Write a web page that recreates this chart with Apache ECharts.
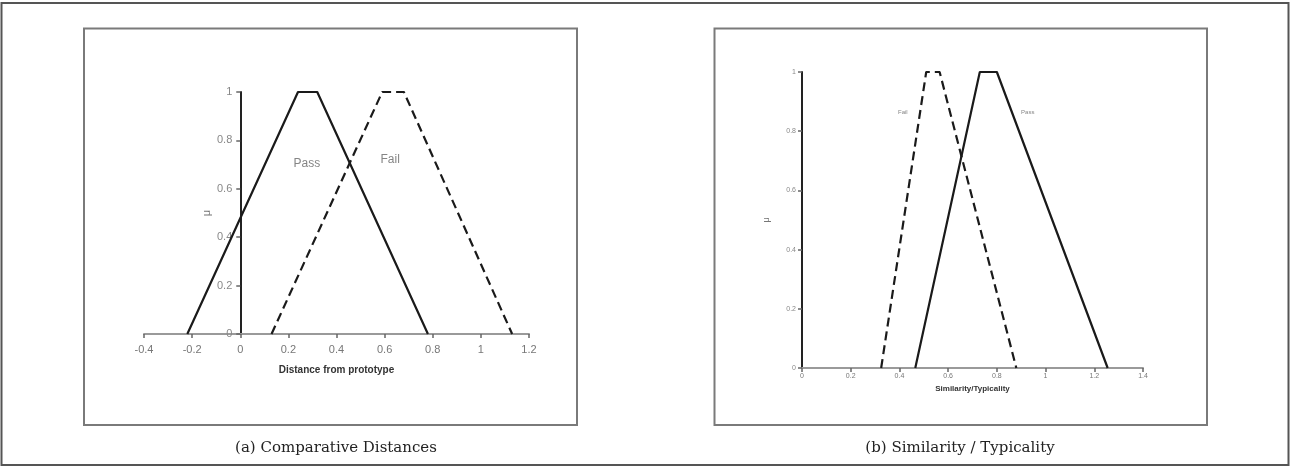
<!DOCTYPE html>
<html><head><meta charset="utf-8">
<script src="https://cdn.jsdelivr.net/npm/echarts@6/dist/echarts.min.js"></script>
<style>html,body{margin:0;padding:0;background:#fff}#c{width:1291px;height:468px}</style>
</head><body><div id="c"></div>
<script>
// ---- Data (a) Comparative Distances ----
const aXTicks = [-0.4, -0.2, 0, 0.2, 0.4, 0.6, 0.8, 1, 1.2];
const aPass = [[-0.22, 0], [0.24, 1], [0.32, 1], [0.78, 0]];
const aFail = [[0.13, 0], [0.59, 1], [0.68, 1], [1.13, 0]];
const aLabels = [[0.277, 0.705, 'Pass'], [0.623, 0.719, 'Fail']];
// ---- Data (b) Similarity / Typicality ----
const bXTicks = [0, 0.2, 0.4, 0.6, 0.8, 1, 1.2, 1.4];
const bFail = [[0.325, 0], [0.51, 1], [0.565, 1], [0.88, 0]];
const bPass = [[0.465, 0], [0.73, 1], [0.8, 1], [1.255, 0]];
const bLabels = [[0.414, 0.864, 'Fail'], [0.927, 0.864, 'Pass']];
const yTicks = [0, 0.2, 0.4, 0.6, 0.8, 1];
const captions = ['(a) Comparative Distances', '(b) Similarity / Typicality'];

const W = 1291;
const gridA = {left: 144, right: 762, top: 92, bottom: 134};
const gridB = {left: 802, right: 148, top: 72, bottom: 100};

const chart = echarts.init(document.getElementById('c'), null, {renderer: 'canvas'});
const lineCol = '#1a1a1a';
const lblFont = 'Liberation Sans, Arial, sans-serif';

function xAxis(idx, ticks, name, fs, nameFs, nameGap, margin) {
  return {
    type: 'value', gridIndex: idx, min: ticks[0], max: ticks[ticks.length - 1], interval: 0.2,
    name: name, nameLocation: 'middle', nameGap: nameGap,
    nameTextStyle: {fontFamily: lblFont, fontWeight: 'bold', fontSize: nameFs, color: '#333'},
    axisLine: {onZero: false, lineStyle: {color: '#9a9a9a', width: 2}},
    axisTick: {show: true, length: 4, lineStyle: {color: '#666', width: 1.5}},
    axisLabel: {fontFamily: lblFont, fontSize: fs, color: '#777', margin: margin,
      formatter: v => String(Math.round(v * 10) / 10)},
    splitLine: {show: false}
  };
}
function yAxis(idx, fs, nameFs, nameGap, margin, offset) {
  return {
    type: 'value', gridIndex: idx, min: yTicks[0], max: yTicks[yTicks.length - 1], interval: 0.2,
    offset: offset,
    name: 'μ', nameLocation: 'middle', nameGap: nameGap, nameRotate: 90,
    nameTextStyle: {fontFamily: lblFont, fontSize: nameFs, color: '#777'},
    axisLine: {show: true, onZero: false, lineStyle: {color: '#222', width: 2}},
    axisTick: {show: true, length: 4, lineStyle: {color: '#666', width: 1.5}},
    axisLabel: {fontFamily: lblFont, fontSize: fs, color: '#888', margin: margin,
      formatter: v => String(Math.round(v * 10) / 10)},
    splitLine: {show: false}
  };
}
function lineSeries(idx, data, dashed) {
  return {
    type: 'line', xAxisIndex: idx, yAxisIndex: idx, data: data, symbol: 'none',
    lineStyle: {color: lineCol, width: 2.2, type: dashed ? [9, 5] : 'solid'},
    silent: true, animation: false, z: 3
  };
}
function labelSeries(idx, labels, fs) {
  return {
    type: 'scatter', xAxisIndex: idx, yAxisIndex: idx, symbolSize: 0,
    data: labels.map(l => ({value: [l[0], l[1]], name: l[2]})),
    label: {show: true, position: 'inside', formatter: p => p.name,
      fontFamily: lblFont, fontSize: fs, color: '#666'},
    silent: true, animation: false
  };
}

// y axis of chart (a) sits on x = 0
const aWidth = W - gridA.left - gridA.right;
const aMin = aXTicks[0], aMax = aXTicks[aXTicks.length - 1];
const aYOffset = -aWidth * (0 - aMin) / (aMax - aMin);

chart.setOption({
  animation: false,
  grid: [
    Object.assign({containLabel: false}, gridA),
    Object.assign({containLabel: false}, gridB)
  ],
  xAxis: [
    xAxis(0, aXTicks, 'Distance from prototype', 11, 10, 31, 10),
    xAxis(1, bXTicks, 'Similarity/Typicality', 7, 8, 15, 5)
  ],
  yAxis: [
    yAxis(0, 11, 11, 28, 8, aYOffset),
    yAxis(1, 7, 9, 31, 6, 0)
  ],
  series: [
    lineSeries(0, aPass, false),
    lineSeries(0, aFail, true),
    labelSeries(0, aLabels, 12),
    lineSeries(1, bFail, true),
    lineSeries(1, bPass, false),
    labelSeries(1, bLabels, 6)
  ],
  title: [
    {text: captions[0], left: 331, top: 436, textAlign: 'center',
      textStyle: {fontFamily: 'DejaVu Serif', fontWeight: 'normal', fontSize: 15, color: '#222'}},
    {text: captions[1], left: 955, top: 436, textAlign: 'center',
      textStyle: {fontFamily: 'DejaVu Serif', fontWeight: 'normal', fontSize: 15, color: '#222'}}
  ],
  graphic: [
    {type: 'rect', shape: {x: 1.5, y: 3, width: 1287, height: 462},
      style: {fill: null, stroke: '#555', lineWidth: 2}, silent: true},
    {type: 'rect', shape: {x: 84, y: 28.5, width: 493, height: 396.5},
      style: {fill: null, stroke: '#7a7a7a', lineWidth: 2}, silent: true},
    {type: 'rect', shape: {x: 714.5, y: 28.5, width: 492.5, height: 396.5},
      style: {fill: null, stroke: '#7a7a7a', lineWidth: 2}, silent: true}
  ]
});
</script>
</body></html>
